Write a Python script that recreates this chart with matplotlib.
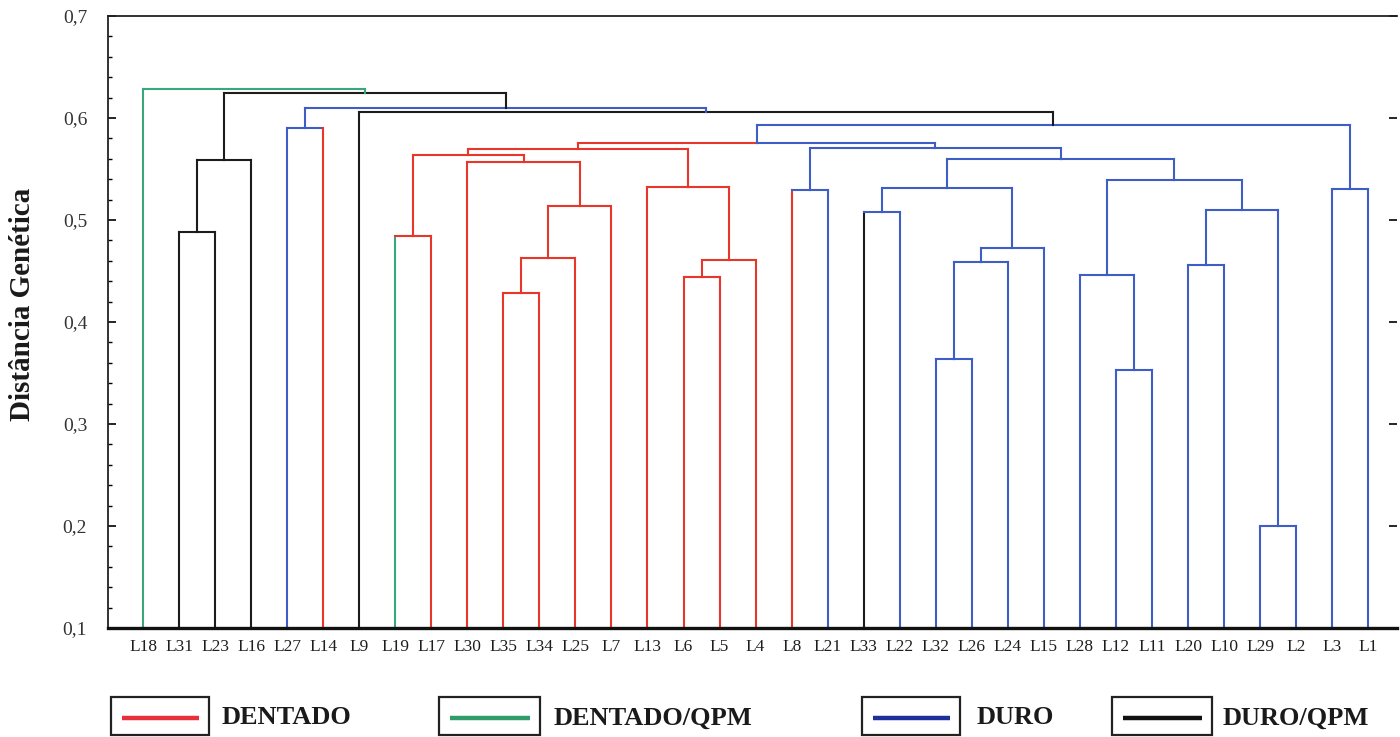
"""Dendrogram of genetic distance between maize lines, coloured by grain type."""

import matplotlib

matplotlib.use("Agg")
import matplotlib.pyplot as plt
from matplotlib.patches import Rectangle
from matplotlib.ticker import MultipleLocator, FuncFormatter

LEAVES = [
    "L18", "L31", "L23", "L16", "L27", "L14", "L9", "L19", "L17", "L30",
    "L35", "L34", "L25", "L7", "L13", "L6", "L5", "L4", "L8", "L21",
    "L33", "L22", "L32", "L26", "L24", "L15", "L28", "L12", "L11", "L20",
    "L10", "L29", "L2", "L3", "L1",
]
LEAF_GROUPS = [
    "DENTADO/QPM", "DURO/QPM", "DURO/QPM", "DURO/QPM", "DURO", "DENTADO",
    "DURO/QPM", "DENTADO/QPM", "DENTADO", "DENTADO", "DENTADO", "DENTADO",
    "DENTADO", "DENTADO", "DENTADO", "DENTADO", "DENTADO", "DENTADO",
    "DENTADO", "DURO", "DURO/QPM", "DURO", "DURO", "DURO", "DURO", "DURO",
    "DURO", "DURO", "DURO", "DURO", "DURO", "DURO", "DURO", "DURO", "DURO",
]

# (new cluster, left child, right child, linkage distance, link group)
MERGES = [
    ("c1", "L29", "L2", 0.200, "DURO"),
    ("c2", "L12", "L11", 0.353, "DURO"),
    ("c3", "L32", "L26", 0.364, "DURO"),
    ("c4", "L35", "L34", 0.428, "DENTADO"),
    ("c5", "L6", "L5", 0.444, "DENTADO"),
    ("c6", "L28", "c2", 0.446, "DURO"),
    ("c7", "L20", "L10", 0.456, "DURO"),
    ("c8", "c3", "L24", 0.459, "DURO"),
    ("c9", "c5", "L4", 0.461, "DENTADO"),
    ("c10", "c4", "L25", 0.463, "DENTADO"),
    ("c11", "c8", "L15", 0.473, "DURO"),
    ("c12", "L19", "L17", 0.484, "DENTADO"),
    ("c13", "L31", "L23", 0.488, "DURO/QPM"),
    ("c14", "c7", "c1", 0.510, "DURO"),
    ("c15", "L33", "L22", 0.508, "DURO"),
    ("c16", "c10", "L7", 0.514, "DENTADO"),
    ("c17", "L8", "L21", 0.529, "DURO"),
    ("c18", "L3", "L1", 0.530, "DURO"),
    ("c19", "L13", "c9", 0.532, "DENTADO"),
    ("c20", "c15", "c11", 0.531, "DURO"),
    ("c21", "c6", "c14", 0.539, "DURO"),
    ("c22", "L30", "c16", 0.557, "DENTADO"),
    ("c23", "c13", "L16", 0.559, "DURO/QPM"),
    ("c24", "c20", "c21", 0.560, "DURO"),
    ("c25", "c12", "c22", 0.564, "DENTADO"),
    ("c26", "c25", "c19", 0.570, "DENTADO"),
    ("c27", "c17", "c24", 0.571, "DURO"),
    ("c28", "c26", "c27", 0.5755, ("DENTADO", "DURO")),
    ("c29", "L27", "L14", 0.590, "DURO"),
    ("c30", "c28", "c18", 0.593, "DURO"),
    ("c31", "L9", "c30", 0.606, "DURO/QPM"),
    ("c32", "c29", "c31", 0.610, "DURO"),
    ("c33", "c23", "c32", 0.6245, "DURO/QPM"),
    ("c34", "L18", "c33", 0.628, "DENTADO/QPM"),
]

GROUPS = ["DENTADO", "DENTADO/QPM", "DURO", "DURO/QPM"]
GROUP_COLORS = {
    "DENTADO": "#e8362b",
    "DENTADO/QPM": "#3aa67c",
    "DURO": "#3d5ec6",
    "DURO/QPM": "#1c1c1c",
}
LEGEND_COLORS = {
    "DENTADO": "#e8303a",
    "DENTADO/QPM": "#2f9c6a",
    "DURO": "#1f2f9a",
    "DURO/QPM": "#111111",
}

SERIF = ["Liberation Serif", "DejaVu Serif"]
LW = 1.5


def draw_tree(ax):
    pos = {name: float(i) for i, name in enumerate(LEAVES)}
    height = {name: 0.1 for name in LEAVES}
    leaf_color = {name: GROUP_COLORS[g] for name, g in zip(LEAVES, LEAF_GROUPS)}

    for node, a, b, h, grp in MERGES:
        left_grp, right_grp = grp if isinstance(grp, tuple) else (grp, grp)
        cl, cr = GROUP_COLORS[left_grp], GROUP_COLORS[right_grp]
        xa, xb = pos[a], pos[b]
        xm = (xa + xb) / 2
        kw = dict(lw=LW, solid_capstyle="projecting")
        ax.plot([xa, xa], [height[a], h], color=leaf_color.get(a, cl), **kw)
        ax.plot([xa, xm], [h, h], color=cl, **kw)
        ax.plot([xm, xb], [h, h], color=cr, **kw)
        ax.plot([xb, xb], [height[b], h], color=leaf_color.get(b, cr), **kw)
        pos[node] = xm
        height[node] = h


def draw_legend(fig):
    lax = fig.add_axes([0, 0, 1, 52 / 737])
    lax.set_xlim(0, 1400)
    lax.set_ylim(0, 52)
    lax.axis("off")
    boxes = [(111, 98), (439, 101), (862, 98), (1112, 100)]
    text_x = [222, 554, 977, 1223]
    for grp, (bx, bw), tx in zip(GROUPS, boxes, text_x):
        lax.add_patch(Rectangle((bx, 2), bw, 38, fill=False, lw=1.6, edgecolor="#222222"))
        lax.plot([bx + 11, bx + bw - 10], [19, 19], color=LEGEND_COLORS[grp], lw=3.2,
                 solid_capstyle="butt")
        lax.text(tx, 19, grp, family=SERIF, fontsize=19, fontweight="bold",
                 color="#1a1a1a", ha="left", va="center")


def main():
    fig = plt.figure(figsize=(14, 7.37), dpi=100)
    ax = fig.add_axes([108 / 1400, 109 / 737, 1289 / 1400, 612 / 737])

    draw_tree(ax)

    ax.set_xlim(-0.971, 34.8)
    ax.set_ylim(0.1, 0.7)
    ax.set_xticks(range(len(LEAVES)))
    ax.set_xticklabels(LEAVES, family=SERIF, fontsize=12.5, color="#1e1e1e")
    ax.tick_params(axis="x", length=0, pad=8)

    ax.yaxis.set_major_locator(MultipleLocator(0.1))
    ax.yaxis.set_minor_locator(MultipleLocator(0.02))
    ax.yaxis.set_major_formatter(FuncFormatter(lambda v, _: f"{v:.1f}".replace(".", ",")))
    ax.tick_params(axis="y", which="major", direction="in", length=6, width=1.2,
                   pad=15, right=True, labelsize=14, labelcolor="#333333")
    ax.tick_params(axis="y", which="minor", direction="in", length=3, width=1.0)
    for label in ax.get_yticklabels():
        label.set_family(SERIF)

    for side in ("left", "top"):
        ax.spines[side].set_linewidth(1.3)
        ax.spines[side].set_color("#222222")
    ax.spines["right"].set_visible(False)
    ax.spines["bottom"].set_linewidth(2.4)
    ax.spines["bottom"].set_color("#111111")

    ax.set_ylabel("Distância Genética", family=SERIF, fontsize=21, fontweight="bold",
                  color="#1a1a1a")
    ax.yaxis.set_label_coords(-0.056, 0.528)

    draw_legend(fig)
    fig.savefig("out.png", dpi=100)
    plt.close(fig)


if __name__ == "__main__":
    main()
